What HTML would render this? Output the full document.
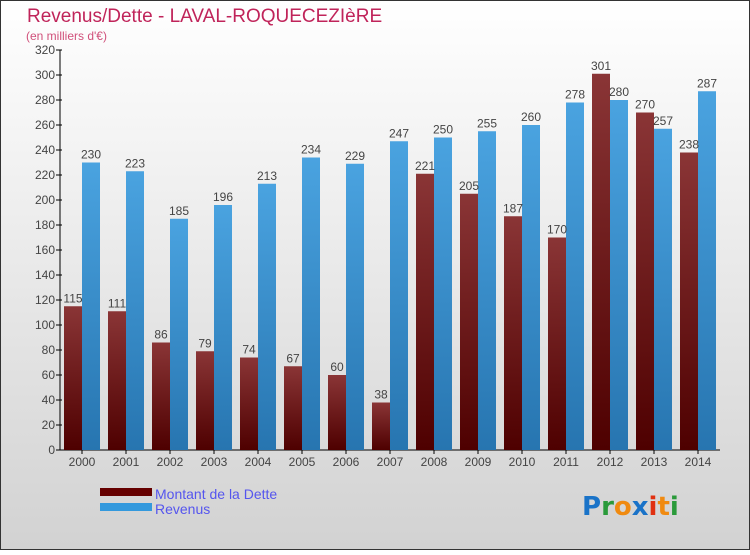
<!DOCTYPE html>
<html><head><meta charset="utf-8"><style>
body{margin:0;width:750px;height:550px;overflow:hidden;font-family:"Liberation Sans",sans-serif}
</style></head><body>
<svg id="c" width="750" height="550" xmlns="http://www.w3.org/2000/svg">
<defs>
<linearGradient id="bg" x1="0" y1="0" x2="0" y2="1"><stop offset="0" stop-color="#ffffff"/><stop offset="1" stop-color="#d2d2d2"/></linearGradient>
<linearGradient id="gd" x1="0" y1="0" x2="0" y2="1"><stop offset="0" stop-color="#8a3536"/><stop offset="1" stop-color="#4e0000"/></linearGradient>
<linearGradient id="gr" x1="0" y1="0" x2="0" y2="1"><stop offset="0" stop-color="#4aa3e0"/><stop offset="1" stop-color="#2775b0"/></linearGradient>
</defs>
<rect x="0.5" y="0.5" width="749" height="549" fill="url(#bg)" stroke="#333"/>
<text x="27" y="22" font-size="19" fill="#c0245a">Revenus/Dette - LAVAL-ROQUECEZIèRE</text>
<text x="26" y="40" font-size="12" fill="#d0507a">(en milliers d'€)</text>
<g id="plot"></g>
<rect x="100" y="488" width="52" height="8" fill="#650000"/>
<rect x="100" y="503" width="52" height="8" fill="#3399dd"/>
<text x="155" y="499" font-size="14" fill="#5555ee">Montant de la Dette</text>
<text x="155" y="514" font-size="14" fill="#5555ee">Revenus</text>
<text x="582" y="515" font-size="26" font-family="'DejaVu Sans',sans-serif" font-weight="bold"><tspan fill="#1a73c8">P</tspan><tspan fill="#2a9a3a">r</tspan><tspan fill="#f08a10">o</tspan><tspan fill="#1a73c8">x</tspan><tspan fill="#e03010">i</tspan><tspan fill="#f08a10">t</tspan><tspan fill="#2a9a3a">i</tspan></text>
</svg>
<script>
const years=["2000","2001","2002","2003","2004","2005","2006","2007","2008","2009","2010","2011","2012","2013","2014"];
const dette=[115,111,86,79,74,67,60,38,221,205,187,170,301,270,238];
const revenus=[230,223,185,196,213,234,229,247,250,255,260,278,280,257,287];
const ticks=[0,20,40,60,80,100,120,140,160,180,200,220,240,260,280,300,320];
const NS="http://www.w3.org/2000/svg";
const g=document.getElementById('plot');
const y=v=>450-v*1.25;
const x=i=>82+i*44;
function mk(t,a){const e=document.createElementNS(NS,t);for(const k in a)e.setAttribute(k,a[k]);g.appendChild(e);return e;}
let ax=mk('line',{x1:60,y1:50,x2:60,y2:450,stroke:'#000'});


let bx=mk('line',{x1:60,y1:450,x2:720,y2:450,stroke:'#000'});


ticks.forEach(t=>{
 let l=mk('line',{x1:56,y1:y(t),x2:62,y2:y(t),stroke:'#000'});
 
 
 let tx=mk('text',{x:55,y:y(t)+4,'font-size':12,fill:'#444','text-anchor':'end'});tx.textContent=t;
 
 
});
years.forEach((yr,i)=>{
 let l=mk('line',{x1:x(i),y1:450,x2:x(i),y2:454,stroke:'#000'});
 
 
 let tx=mk('text',{x:x(i),y:466,'font-size':12,fill:'#444','text-anchor':'middle'});tx.textContent=yr;
 
 
 let b1=mk('rect',{x:x(i)-18,y:y(dette[i]),width:18,height:dette[i]*1.25,fill:'url(#gd)'});
 
 
 let b2=mk('rect',{x:x(i),y:y(revenus[i]),width:18,height:revenus[i]*1.25,fill:'url(#gr)'});
 
 
 let t1=mk('text',{x:x(i)-9,y:y(dette[i])-4,'font-size':12,fill:'#444','text-anchor':'middle'});t1.textContent=dette[i];
 
 
 let t2=mk('text',{x:x(i)+9,y:y(revenus[i])-4,'font-size':12,fill:'#444','text-anchor':'middle'});t2.textContent=revenus[i];
 
 
});
</script>
</body></html>
